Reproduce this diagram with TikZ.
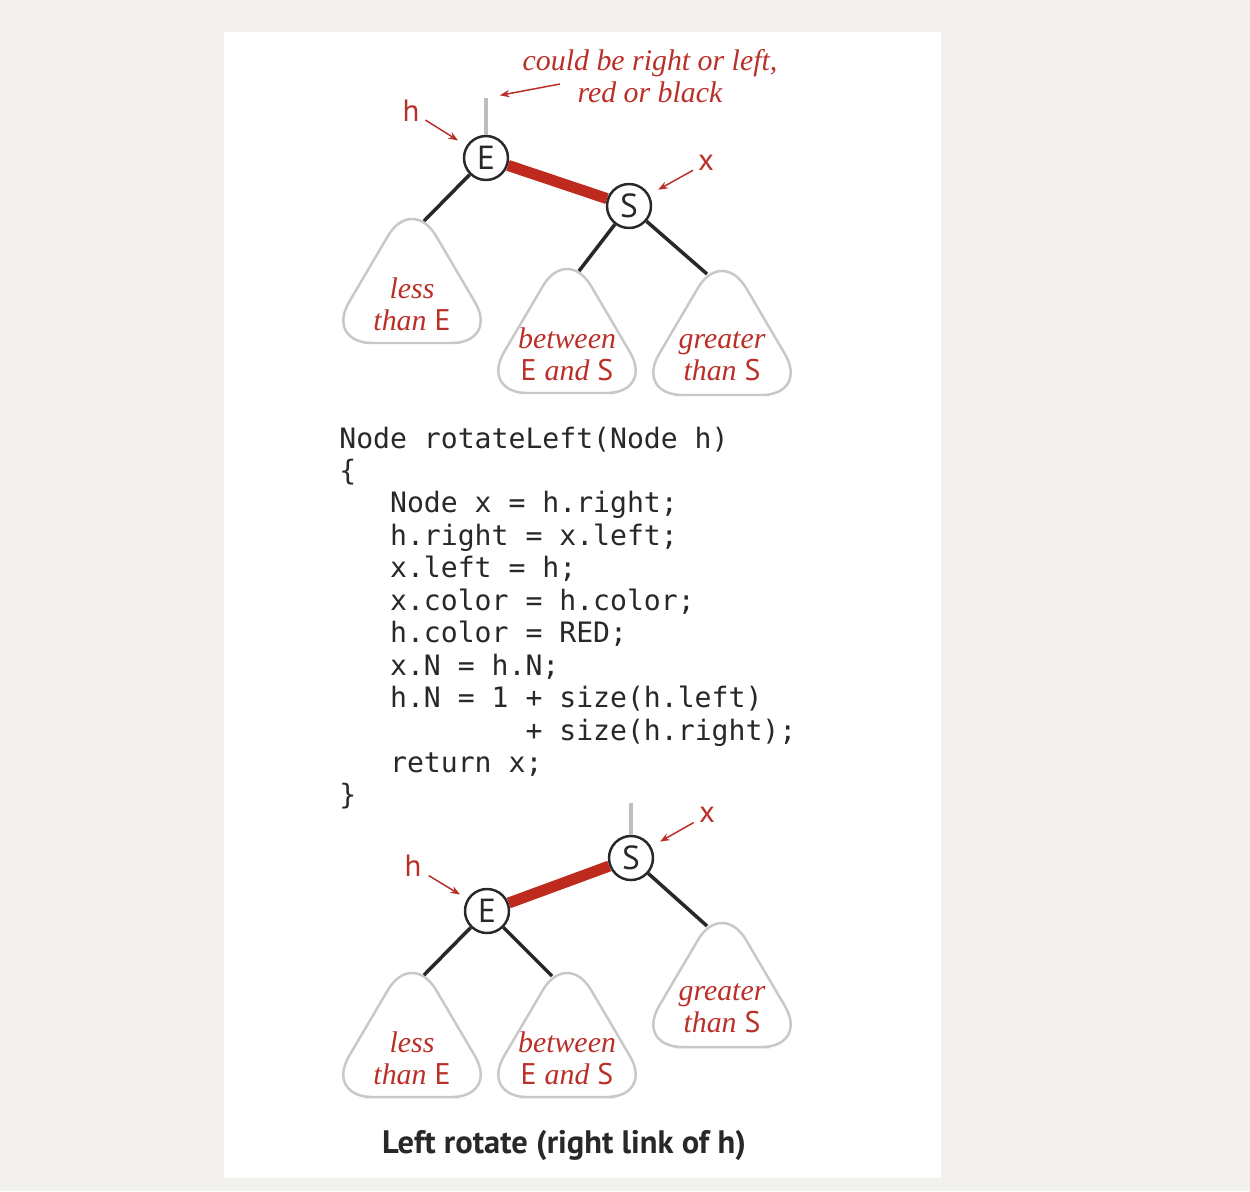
\documentclass[tikz,border=0pt]{standalone}
\usepackage{fontspec}
\setmainfont{PT Sans}
\setmonofont{DejaVu Sans Mono}
\newfontfamily\notefont{Liberation Serif}
\usetikzlibrary{arrows.meta}
\definecolor{pagegray}{RGB}{242,241,238}
\definecolor{notered}{RGB}{186,48,40}
\definecolor{linkred}{RGB}{190,42,30}
\definecolor{stubgray}{RGB}{190,190,190}
\definecolor{treegray}{RGB}{200,200,200}
\definecolor{inkgray}{RGB}{40,40,40}
\newcommand{\ital}[1]{{\notefont\itshape #1}}
\tikzset{x=0.02cm, y=-0.02cm, % one unit is one pixel of the layout, y downwards
>={Stealth[length=5.5pt,width=4.2pt]},
key/.style={ % the circles holding E and S
circle, draw=inkgray, line width=1.4pt, fill=white,
minimum size=0.88cm, inner sep=0pt, text=inkgray,
font=\fontsize{19}{21}\selectfont},
link/.style={draw=inkgray, line width=2pt}, % black links
redlink/.style={draw=linkred, line width=6.3pt}, % red link
stub/.style={draw=stubgray, line width=2.8pt}, % link from the parent
pointer/.style={draw=notered, line width=0.85pt, ->},
ptrname/.style={text=notered, font=\fontsize{17.5}{20}\selectfont},
note/.style={text=notered, align=center,
font=\notefont\itshape\fontsize{17}{18.4}\selectfont},
subtree text/.style={text=notered, align=center,
font=\fontsize{17}{18.4}\selectfont},
code/.style={anchor=base west, inner sep=0pt, text=inkgray,
font=\ttfamily\fontsize{16}{18}\selectfont},
subtree/.pic={ % rounded triangle, apex at the origin
\draw[treegray, line width=1.4pt, fill=white, rounded corners=0.95cm]
(0,125) -- (87,125) -- (0,-23) -- (-87,125) -- cycle;
\coordinate (-ne) at (12,3);
\coordinate (-nw) at (-15,4);
\node[subtree text] (-text) at (0,86) {\tikzpictext};
}}

\begin{document}
\begin{tikzpicture}
\fill[pagegray] (0,0) rectangle (1250,1191);
\fill[white] (224,32) rectangle (941,1178);

% before the rotation
\node[key] (E1) at (486,158) {E};
\node[key] (S1) at (629,206) {S};
\coordinate (top1) at (486,98);
\node[ptrname] (hlab1) at (411,111) {h};
\node[ptrname] (xlab1) at (706,163) {x};
\node[note] (note) at (650,76) {could be right or left,\\red or black};
\coordinate (notefrom) at (560,84);
\pic[pic text={\ital{less}\\\ital{than} E}] (lt1) at (412,218) {subtree};
\pic[pic text={\ital{between}\\E \ital{and} S}] (bt1) at (567,268) {subtree};
\pic[pic text={\ital{greater}\\\ital{than} S}] (gt1) at (722,270) {subtree};
\draw[stub] (E1) -- (top1);
\draw[redlink] (E1) -- (S1);
\draw[link] (E1) -- (lt1-ne);
\draw[link] (S1) -- (bt1-ne);
\draw[link] (S1) -- (gt1-nw);
\draw[pointer, shorten <=9.7pt, shorten >=18.8pt] (hlab1.center) -- (E1.center);
\draw[pointer, shorten <=8.5pt, shorten >=19pt] (xlab1.center) -- (S1.center);
\draw[pointer, shorten >=8pt] (notefrom) -- (top1);

% the code
\foreach \codeline [count=\i] in {
Node rotateLeft(Node h),
\{,
\phantom{xxx}Node x = h.right;,
\phantom{xxx}h.right = x.left;,
\phantom{xxx}x.left = h;,
\phantom{xxx}x.color = h.color;,
\phantom{xxx}h.color = RED;,
\phantom{xxx}x.N = h.N;,
\phantom{xxx}h.N = 1 + size(h.left),
\phantom{xxxxxxxxxxx}+ size(h.right);,
\phantom{xxx}return x;,
\}}
\node[code] (code\i) at (339,{448+32.45*(\i-1)}) {\codeline};

% after the rotation
\node[key] (S2) at (631,858) {S};
\node[key] (E2) at (487,911) {E};
\coordinate (top2) at (631,803);
\node[ptrname] (hlab2) at (413,866) {h};
\node[ptrname] (xlab2) at (707,815) {x};
\pic[pic text={\ital{less}\\\ital{than} E}] (lt2) at (412,972) {subtree};
\pic[pic text={\ital{between}\\E \ital{and} S}] (bt2) at (567,972) {subtree};
\pic[pic text={\ital{greater}\\\ital{than} S}] (gt2) at (722,922) {subtree};
\draw[stub] (S2) -- (top2);
\draw[redlink] (E2) -- (S2);
\draw[link] (E2) -- (lt2-ne);
\draw[link] (E2) -- (bt2-nw);
\draw[link] (S2) -- (gt2-nw);
\draw[pointer, shorten <=10.5pt, shorten >=18pt] (hlab2.center) -- (E2.center);
\draw[pointer, shorten <=8.7pt, shorten >=19pt] (xlab2.center) -- (S2.center);

\node[text=inkgray, font=\bfseries\fontsize{18.5}{20}\selectfont] (caption)
at (564,1145) {Left rotate (right link of h)};
\end{tikzpicture}
\end{document}
